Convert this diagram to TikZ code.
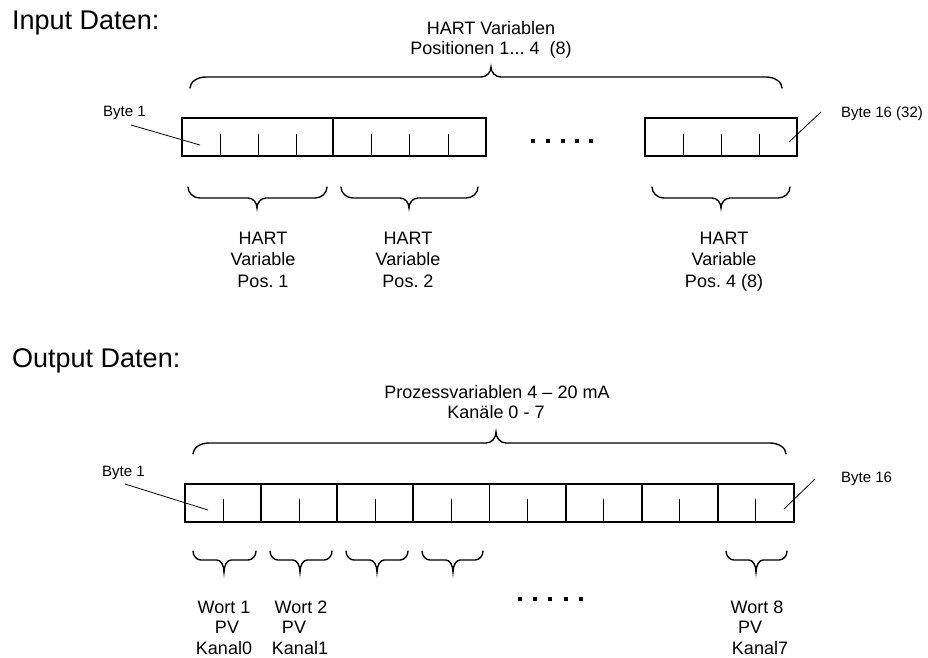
\documentclass[tikz,border=0pt]{standalone}
\usepackage{fontspec}
\setmainfont{Liberation Sans}
\frenchspacing

% horizontal curly brace: x1, x2, tip x, end y, line y, tip y, end radius, tip radius
\newcommand\curlybrace[8]{%
  \draw[curly] (#1,#4)
    .. controls (#1,{#4+0.55*(#5-#4)}) and ({#1+0.45*#7},#5) .. ({#1+#7},#5)
    -- ({#3-#8},#5)
    .. controls ({#3-0.45*#8},#5) and (#3,{#6+0.55*(#5-#6)}) .. (#3,#6)
    .. controls (#3,{#6+0.55*(#5-#6)}) and ({#3+0.45*#8},#5) .. ({#3+#8},#5)
    -- ({#2-#7},#5)
    .. controls ({#2-0.45*#7},#5) and (#2,{#4+0.55*(#5-#4)}) .. (#2,#4);}

\tikzset{
  cell/.style={draw, line width=1.8pt},
  tick/.style={line width=0.9pt},
  curly/.style={line width=1.4pt, line cap=round},
  leader/.style={line width=0.8pt},
  lab/.style={font=\fontsize{18}{21}\selectfont, inner sep=0pt, anchor=base},
  small/.style={font=\fontsize{15}{18}\selectfont, inner sep=0pt, anchor=base west},
  title/.style={font=\fontsize{27}{32}\selectfont, inner sep=0pt, anchor=base west},
}

\begin{document}
\begin{tikzpicture}[x=1pt, y=-1pt]
\useasboundingbox (0,0) rectangle (928,657);

% ---------------- Input data ----------------
\node[title] (tin) at (12,29) {Input Daten:};
\node[lab] (hvA) at (491,34.5) {HART Variablen};
\node[lab] (hvB) at (491,54.5) {Positionen 1... 4\ \ (8)};

\curlybrace{190}{782}{491}{88}{77}{67}{16}{10}

% byte blocks
\draw[cell] (182,118) rectangle (333,156);
\draw[cell] (333,118) rectangle (486,156);
\draw[cell] (645,118) rectangle (797,156);
\foreach \x in {220,258,296,371,409,448,683,721,759}
  \draw[tick] (\x,134) -- (\x,156);

% ellipsis
\foreach \x in {533,548,563,577,591}
  \fill (\x-2.2,138.8) rectangle (\x+2.2,143.2);

% byte labels with leader lines
\node[small] (ib1) at (103,116) {Byte 1};
\coordinate (ib1s) at (131,125);
\coordinate (ib1e) at (200,145);
\draw[leader] (ib1s) -- (ib1e);
\node[small] (ib16) at (841,117.5) {Byte 16 (32)};
\coordinate (ib16s) at (821,112);
\coordinate (ib16e) at (789,142);
\draw[leader] (ib16s) -- (ib16e);

% variable braces
\curlybrace{188}{327}{257}{187}{198}{208}{12}{9}
\curlybrace{341}{478}{409}{187}{198}{208}{12}{9}
\curlybrace{652}{790}{721}{187}{198}{208}{12}{9}

\node[lab] (p1a) at (263,244.5) {HART};
\node[lab] (p1b) at (263,265.5) {Variable};
\node[lab] (p1c) at (263,287.5) {Pos. 1};
\node[lab] (p2a) at (408,244.5) {HART};
\node[lab] (p2b) at (408,265.5) {Variable};
\node[lab] (p2c) at (408,287.5) {Pos. 2};
\node[lab] (p4a) at (724,244.5) {HART};
\node[lab] (p4b) at (724,265.5) {Variable};
\node[lab] (p4c) at (724,287.5) {Pos. 4 (8)};

% ---------------- Output data ----------------
\node[title] (tout) at (12,367) {Output Daten:};
\node[lab] (pvA) at (497,398.5) {Prozessvariablen 4 – 20 mA};
\node[lab] (pvB) at (496,418.5) {Kanäle 0 - 7};

\curlybrace{193}{786}{496}{454}{443}{432}{16}{10}

\foreach \i in {0,...,7}{
  \draw[cell] ({185+76.125*\i},484) rectangle ({185+76.125*(\i+1)},522);
  \draw[tick] ({185+76.125*(\i+0.5)},499) -- ({185+76.125*(\i+0.5)},522);
}

\node[small] (ob1) at (102,476) {Byte 1};
\coordinate (ob1s) at (125,484);
\coordinate (ob1e) at (208,510);
\draw[leader] (ob1s) -- (ob1e);
\node[small] (ob16) at (841,482.5) {Byte 16};
\coordinate (ob16s) at (815,479);
\coordinate (ob16e) at (784,509);
\draw[leader] (ob16s) -- (ob16e);

% word braces
\curlybrace{193}{256}{224}{551}{560}{572}{8}{7}
\curlybrace{270}{332}{300}{551}{560}{572}{8}{7}
\curlybrace{346}{408}{377}{551}{560}{572}{8}{7}
\curlybrace{422}{483}{453}{551}{560}{572}{8}{7}
\curlybrace{726}{787}{756}{551}{560}{572}{8}{7}

\foreach \x in {520,535,550,566,581}
  \fill (\x-2.2,596.8) rectangle (\x+2.2,601.2);

\node[lab] (w1a) at (224,613.5) {Wort 1};
\node[lab] (w1b) at (227,633.5) {PV};
\node[lab] (w1c) at (224,654) {Kanal0};
\node[lab] (w2a) at (301,613.5) {Wort 2};
\node[lab] (w2b) at (294,633.5) {PV};
\node[lab] (w2c) at (300,654) {Kanal1};
\node[lab] (w8a) at (757,613.5) {Wort 8};
\node[lab] (w8b) at (750,633.5) {PV};
\node[lab] (w8c) at (760,654) {Kanal7};
\end{tikzpicture}
\end{document}
